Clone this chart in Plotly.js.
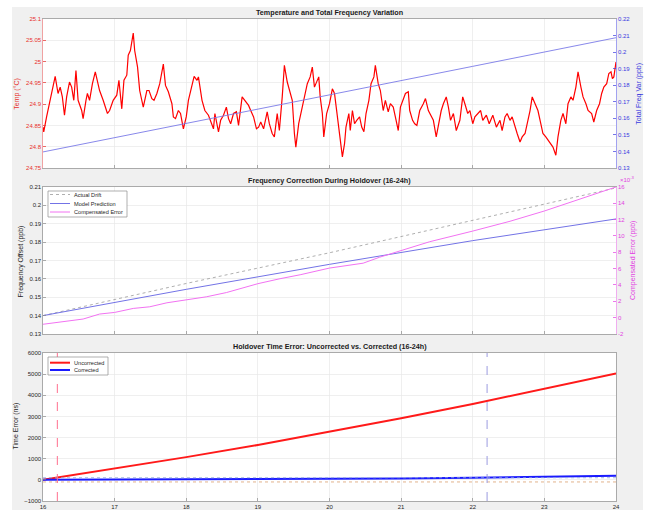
<!DOCTYPE html>
<html>
<head>
<meta charset="utf-8">
<script src="https://cdn.plot.ly/plotly-3.0.1.min.js"></script>
<style>html,body{margin:0;padding:0;background:#fff;}#chart{width:654px;height:510px;}</style>
</head>
<body>
<div id="chart"></div>
<script>
// ---------- Panel 1: temperature & total frequency variation ----------
const tempHours = [16.00,16.01,16.05,16.09,16.14,16.17,16.21,16.24,16.27,16.30,16.33,16.37,16.40,16.43,16.46,16.49,16.54,16.56,16.60,16.62,16.65,16.69,16.73,16.76,16.79,16.84,16.90,16.93,16.98,17.03,17.06,17.10,17.13,17.17,17.19,17.22,17.26,17.28,17.32,17.35,17.40,17.45,17.48,17.52,17.55,17.59,17.63,17.68,17.71,17.75,17.80,17.82,17.85,17.89,17.92,17.96,18.00,18.03,18.08,18.11,18.15,18.17,18.22,18.26,18.31,18.34,18.38,18.40,18.45,18.48,18.52,18.56,18.59,18.62,18.66,18.70,18.73,18.78,18.82,18.87,18.90,18.94,18.98,19.01,19.04,19.08,19.13,19.16,19.20,19.23,19.27,19.30,19.34,19.37,19.41,19.44,19.48,19.51,19.53,19.57,19.62,19.65,19.69,19.73,19.76,19.79,19.83,19.85,19.87,19.90,19.92,19.96,20.00,
20.04,20.07,20.10,20.14,20.18,20.21,20.23,20.27,20.29,20.32,20.35,20.38,20.42,20.45,20.48,20.51,20.55,20.58,20.62,20.64,20.68,20.71,20.75,20.78,20.82,20.85,20.89,20.93,20.96,20.99,21.03,21.06,21.10,21.12,21.16,21.19,21.22,21.26,21.31,21.34,21.38,21.42,21.45,21.49,21.53,21.56,21.59,21.63,21.66,21.69,21.73,21.77,21.82,21.86,21.89,21.93,21.96,22.00,22.03,22.07,22.11,22.14,22.19,22.23,22.28,22.33,22.38,22.41,22.45,22.48,22.52,22.55,22.59,22.62,22.66,22.69,22.73,22.76,22.80,22.83,22.87,22.91,22.95,22.98,23.02,23.05,23.09,23.12,23.16,23.19,23.23,23.26,23.30,23.33,23.37,23.40,23.44,23.47,23.51,23.54,23.58,23.61,23.66,23.69,23.73,23.77,23.80,23.83,23.87,23.90,23.93,23.95,23.97,24.00];
const temperature = [24.846,24.835,24.870,24.901,24.940,24.965,24.925,24.940,24.917,24.874,24.917,24.952,24.940,24.909,24.979,24.909,24.885,24.866,24.909,24.925,24.909,24.948,24.976,24.956,24.932,24.909,24.878,24.885,24.909,24.921,24.956,24.889,24.956,24.968,25.015,25.026,25.067,25.026,24.987,24.932,24.893,24.932,24.932,24.913,24.909,24.925,24.948,24.994,24.944,24.929,24.901,24.870,24.866,24.885,24.878,24.842,24.870,24.909,24.948,24.965,24.956,24.964,24.909,24.885,24.874,24.862,24.842,24.878,24.835,24.862,24.874,24.893,24.866,24.854,24.878,24.882,24.850,24.917,24.909,24.897,24.885,24.870,24.842,24.846,24.858,24.842,24.882,24.854,24.831,24.823,24.878,24.838,24.917,24.991,24.952,24.932,24.909,24.831,24.799,24.854,24.893,24.909,24.948,24.964,24.987,24.940,24.956,24.964,24.917,24.878,24.823,24.878,24.901,
24.936,24.925,24.885,24.831,24.776,24.807,24.846,24.878,24.838,24.885,24.854,24.862,24.870,24.846,24.835,24.878,24.909,24.948,24.964,24.991,24.948,24.932,24.885,24.909,24.882,24.901,24.893,24.862,24.838,24.893,24.909,24.925,24.929,24.885,24.862,24.854,24.850,24.885,24.901,24.913,24.885,24.870,24.862,24.823,24.862,24.885,24.901,24.917,24.893,24.862,24.878,24.838,24.862,24.917,24.901,24.878,24.885,24.854,24.870,24.878,24.885,24.862,24.874,24.854,24.874,24.846,24.862,24.838,24.870,24.878,24.862,24.870,24.846,24.831,24.811,24.823,24.831,24.854,24.885,24.917,24.901,24.885,24.854,24.831,24.823,24.815,24.807,24.799,24.780,24.823,24.862,24.878,24.854,24.901,24.917,24.909,24.940,24.976,24.940,24.917,24.901,24.885,24.878,24.858,24.885,24.901,24.925,24.940,24.948,24.972,24.976,24.960,24.964,24.999];
const freqHours = [16, 18, 20, 22, 24];
const totalFreqVar = [0.1397, 0.1568, 0.1743, 0.1914, 0.2087];

// ---------- Panel 2: frequency correction during holdover ----------
const driftHours = [16, 18, 20, 22, 24];
const actualDrift = [0.1400, 0.1575, 0.1742, 0.1920, 0.2095];
const modelPrediction = [0.1400, 0.1543, 0.1679, 0.1808, 0.1926];
const compHours = [16.00,16.33,16.56,16.79,17.00,17.26,17.49,17.73,18.00,18.28,18.56,19.00,19.31,19.59,20.00,20.23,20.47,20.70,21.00,21.40,22.00,22.52,23.00,23.50,24.00];
const compensatedError = [-0.00081,-0.00041,-0.00017,0.00044,0.00064,0.00113,0.00133,0.00182,0.00214,0.00255,0.00307,0.00416,0.00477,0.00525,0.00607,0.00640,0.00667,0.00740,0.00820,0.00930,0.01060,0.01180,0.01306,0.01450,0.01600];
const compTickVals = [-0.002,0,0.002,0.004,0.006,0.008,0.010,0.012,0.014,0.016];
const compTickText = ['-2','0','2','4','6','8','10','12','14','16'];

// ---------- Panel 3: holdover time error ----------
const errHours = [16, 17, 18, 19, 20, 21, 22, 23, 24];
const uncorrected = [0, 520, 1075, 1650, 2265, 2910, 3590, 4300, 5035];
const corrected = [0, 5, 12, 22, 35, 60, 95, 140, 190];
const thresholds = [100, -100];
const eventTimes = [16.2, 22.2];

const FONT = 'Liberation Sans, Arial, Helvetica, sans-serif';
const RED = '#e8302c', BLUE = '#3a3ae0', MAG = '#e23ee2', DARK = '#262626', BOX = '#8c8c8c', GRID = '#e8e8e8';

const styles = {
  drift: {color: '#9a9a9a', width: 0.8, dash: 'dot'},
  model: {color: '#7373e6', width: 1, dash: 'solid'},
  comp: {color: '#f272f2', width: 1, dash: 'solid'},
  unc: {color: '#ff1a1a', width: 2, dash: 'solid'},
  cor: {color: '#1a1aff', width: 2, dash: 'solid'}
};
const st = k => Object.assign({}, styles[k]);

const traces = [
  {x: tempHours, y: temperature, xaxis: 'x', yaxis: 'y', type: 'scatter', mode: 'lines',
   line: {color: '#ff0000', width: 1.2}, showlegend: false, name: 'Temp'},
  {x: freqHours, y: totalFreqVar, xaxis: 'x', yaxis: 'y2', type: 'scatter', mode: 'lines',
   line: {color: '#7b7be8', width: 0.9}, showlegend: false, name: 'Total Freq Var'},
  {x: driftHours, y: actualDrift, xaxis: 'x2', yaxis: 'y3', type: 'scatter', mode: 'lines',
   line: st('drift'), name: 'Actual Drift', showlegend: false},
  {x: driftHours, y: modelPrediction, xaxis: 'x2', yaxis: 'y3', type: 'scatter', mode: 'lines',
   line: st('model'), name: 'Model Prediction', showlegend: false},
  {x: compHours, y: compensatedError, xaxis: 'x2', yaxis: 'y4', type: 'scatter', mode: 'lines',
   line: st('comp'), name: 'Compensated Error', showlegend: false},
  {x: errHours, y: uncorrected, xaxis: 'x3', yaxis: 'y5', type: 'scatter', mode: 'lines',
   line: st('unc'), name: 'Uncorrected', showlegend: false},
  {x: errHours, y: corrected, xaxis: 'x3', yaxis: 'y5', type: 'scatter', mode: 'lines',
   line: st('cor'), name: 'Corrected', showlegend: false}
];

const tickFont = {family: FONT, size: 6, color: DARK};
function xAxis(anchor, labels) {
  return {domain: [0, 1], anchor: anchor, range: [16, 24], tick0: 16, dtick: 1,
    showticklabels: labels, ticks: 'inside', ticklen: 3, tickcolor: BOX, tickwidth: 0.7,
    showline: true, linecolor: BOX, linewidth: 0.7, mirror: true,
    showgrid: true, gridcolor: GRID, gridwidth: 0.7, zeroline: false, tickfont: tickFont};
}
const D1 = [0.6909, 1], D2 = [0.3465, 0.6515], D3 = [0, 0.3071];

// pixel -> paper helpers for legend boxes (plot area: left 43, top 19, 573 x 482)
const px = v => (v - 43) / 573;
const py = v => (501 - v) / 482;

const shapes = [
  {type: 'rect', xref: 'paper', yref: 'paper', x0: px(0), x1: px(12), y0: py(520), y1: py(-5), fillcolor: '#ffffff', line: {width: 0}, layer: 'below'},
  {type: 'rect', xref: 'paper', yref: 'paper', x0: px(643), x1: px(660), y0: py(520), y1: py(-5), fillcolor: '#ffffff', line: {width: 0}, layer: 'below'},
  {type: 'rect', xref: 'paper', yref: 'paper', x0: px(0), x1: px(660), y0: py(7), y1: py(-5), fillcolor: '#ffffff', line: {width: 0}, layer: 'below'},
  {type: 'line', xref: 'x3 domain', yref: 'y5', x0: 0, x1: 1, y0: thresholds[0], y1: thresholds[0],
   line: {color: '#8ea6dc', width: 0.8, dash: 'dot'}},
  {type: 'line', xref: 'x3 domain', yref: 'y5', x0: 0, x1: 1, y0: thresholds[1], y1: thresholds[1],
   line: {color: '#dca070', width: 0.8, dash: 'dot'}},
  {type: 'line', xref: 'x3', yref: 'y5 domain', x0: eventTimes[0], x1: eventTimes[0], y0: 0, y1: 1,
   line: {color: '#ff6f8f', width: 1, dash: 'dash'}},
  {type: 'line', xref: 'x3', yref: 'y5 domain', x0: eventTimes[1], x1: eventTimes[1], y0: 0, y1: 1,
   line: {color: '#9c9ce0', width: 1, dash: 'dash'}},
  {type: 'rect', xref: 'paper', yref: 'paper', x0: px(48), x1: px(127), y0: py(217), y1: py(191),
   fillcolor: '#ffffff', line: {color: '#8c8c8c', width: 0.7}},
  {type: 'rect', xref: 'paper', yref: 'paper', x0: px(48), x1: px(108), y0: py(375), y1: py(357),
   fillcolor: '#ffffff', line: {color: '#8c8c8c', width: 0.7}}
];

const annotations = [
  {text: '<b>Temperature and Total Frequency Variation</b>', xref: 'paper', yref: 'paper', x: 0.5, y: 1,
   xanchor: 'center', yanchor: 'bottom', showarrow: false, font: {family: FONT, size: 7.2, color: '#1a1a1a'}},
  {text: '<b>Frequency Correction During Holdover (16-24h)</b>', xref: 'paper', yref: 'paper', x: 0.5, y: D2[1],
   xanchor: 'center', yanchor: 'bottom', showarrow: false, font: {family: FONT, size: 7.2, color: '#1a1a1a'}},
  {text: '<b>Holdover Time Error: Uncorrected vs. Corrected (16-24h)</b>', xref: 'paper', yref: 'paper', x: 0.5, y: D3[1],
   xanchor: 'center', yanchor: 'bottom', showarrow: false, font: {family: FONT, size: 7.2, color: '#1a1a1a'}},
  {text: 'Temp (°C)', xref: 'paper', yref: 'paper', x: -0.0454, y: 0.845, textangle: -90,
   xanchor: 'center', yanchor: 'middle', showarrow: false, font: {family: FONT, size: 7, color: RED}},
  {text: 'Total Freq Var (ppb)', xref: 'paper', yref: 'paper', x: 1.0401, y: 0.845, textangle: -90,
   xanchor: 'center', yanchor: 'middle', showarrow: false, font: {family: FONT, size: 7, color: BLUE}},
  {text: 'Frequency Offset (ppb)', xref: 'paper', yref: 'paper', x: -0.0384, y: 0.497, textangle: -90,
   xanchor: 'center', yanchor: 'middle', showarrow: false, font: {family: FONT, size: 7, color: DARK}},
  {text: 'Compensated Error (ppb)', xref: 'paper', yref: 'paper', x: 1.0297, y: 0.498, textangle: -90,
   xanchor: 'center', yanchor: 'middle', showarrow: false, font: {family: FONT, size: 7, color: MAG}},
  {text: '×10<sup>-3</sup>', xref: 'paper', yref: 'paper', x: 1.0, y: 0.668, xshift: 2,
   xanchor: 'left', yanchor: 'middle', showarrow: false, font: {family: FONT, size: 6, color: MAG}},
  {text: 'Time Error (ns)', xref: 'paper', yref: 'paper', x: -0.0471, y: 0.1546, textangle: -90,
   xanchor: 'center', yanchor: 'middle', showarrow: false, font: {family: FONT, size: 7, color: DARK}}
];

const legendItems = [
  {name: 'Actual Drift', key: 'drift', row: 194.5},
  {name: 'Model Prediction', key: 'model', row: 203.5},
  {name: 'Compensated Error', key: 'comp', row: 212},
  {name: 'Uncorrected', key: 'unc', row: 362.7},
  {name: 'Corrected', key: 'cor', row: 370}
];
legendItems.forEach(it => {
  shapes.push({type: 'line', xref: 'paper', yref: 'paper', x0: px(50), x1: px(70), y0: py(it.row), y1: py(it.row), line: st(it.key)});
  annotations.push({text: it.name, xref: 'paper', yref: 'paper', x: px(71.5), y: py(it.row), xanchor: 'left', yanchor: 'middle',
    showarrow: false, font: {family: FONT, size: 5.6, color: DARK}});
});

const layout = {
  width: 654, height: 510,
  margin: {l: 43, r: 38, t: 19, b: 9},
  paper_bgcolor: '#f0f0f0', plot_bgcolor: '#ffffff',
  font: {family: FONT, size: 6, color: DARK},
  showlegend: false,
  xaxis: xAxis('y', false),
  xaxis2: Object.assign(xAxis('y3', false), {matches: 'x'}),
  xaxis3: Object.assign(xAxis('y5', true), {matches: 'x'}),
  yaxis: {domain: D1, anchor: 'x', range: [24.75, 25.1], tick0: 24.75, dtick: 0.05,
    ticks: 'inside', ticklen: 3, tickcolor: RED, tickwidth: 0.7, showline: true, linecolor: '#f08080', linewidth: 0.7,
    showgrid: true, gridcolor: GRID, gridwidth: 0.7, zeroline: false,
    tickfont: {family: FONT, size: 6, color: RED}},
  yaxis2: {overlaying: 'y', side: 'right', anchor: 'x', range: [0.13, 0.22], tick0: 0.13, dtick: 0.01,
    ticks: 'inside', ticklen: 3, tickcolor: BLUE, tickwidth: 0.7, showline: true, linecolor: '#8080f0', linewidth: 0.7,
    showgrid: false, zeroline: false, tickfont: {family: FONT, size: 6, color: BLUE}},
  yaxis3: {domain: D2, anchor: 'x2', range: [0.13, 0.21], tick0: 0.13, dtick: 0.01,
    ticks: 'inside', ticklen: 3, tickcolor: BOX, tickwidth: 0.7, showline: true, linecolor: BOX, linewidth: 0.7,
    showgrid: true, gridcolor: GRID, gridwidth: 0.7, zeroline: false, tickfont: tickFont},
  yaxis4: {overlaying: 'y3', side: 'right', anchor: 'x2', range: [-0.002, 0.016],
    tickmode: 'array', tickvals: compTickVals, ticktext: compTickText,
    ticks: 'inside', ticklen: 3, tickcolor: MAG, tickwidth: 0.7, showline: true, linecolor: '#f090f0', linewidth: 0.7,
    showgrid: false, zeroline: false, tickfont: {family: FONT, size: 6, color: MAG}},
  yaxis5: {domain: D3, anchor: 'x3', range: [-1000, 6000], tick0: -1000, dtick: 1000,
    ticks: 'inside', ticklen: 3, tickcolor: BOX, tickwidth: 0.7, showline: true, linecolor: BOX, linewidth: 0.7, mirror: true,
    showgrid: true, gridcolor: GRID, gridwidth: 0.7, zeroline: false, tickfont: tickFont},
  shapes: shapes,
  annotations: annotations
};

Plotly.newPlot('chart', traces, layout, {displayModeBar: false, responsive: false, staticPlot: true});
</script>
</body>
</html>
